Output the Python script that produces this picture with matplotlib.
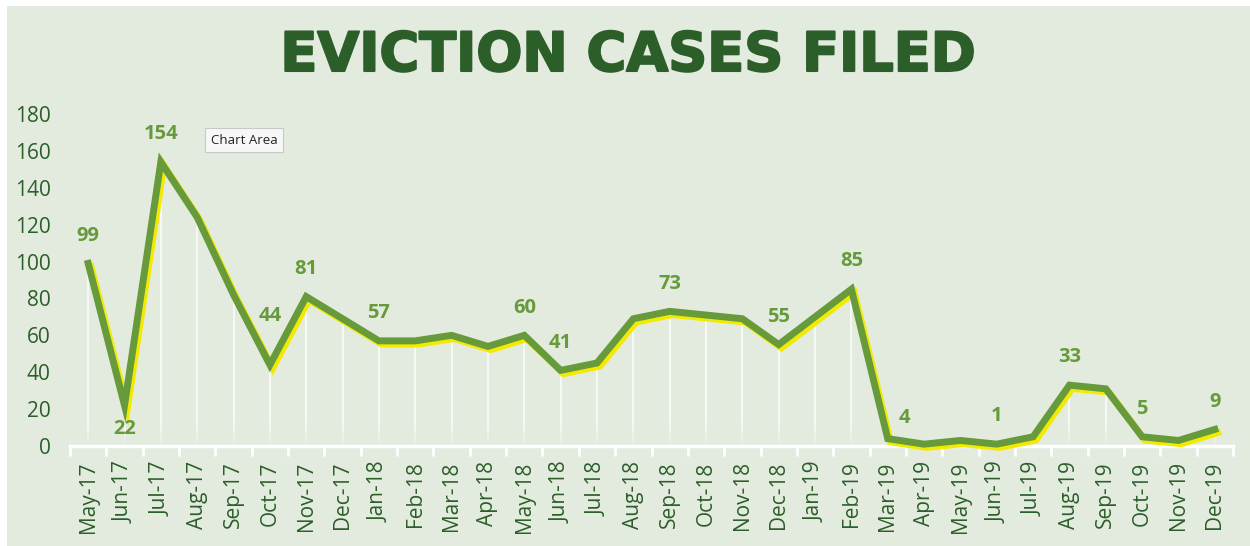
import numpy as np
import matplotlib
matplotlib.use('Agg')
import matplotlib.pyplot as plt
import matplotlib.patheffects as pe
from matplotlib.patches import Rectangle

months = ['May-17', 'Jun-17', 'Jul-17', 'Aug-17', 'Sep-17', 'Oct-17', 'Nov-17', 'Dec-17',
          'Jan-18', 'Feb-18', 'Mar-18', 'Apr-18', 'May-18', 'Jun-18', 'Jul-18', 'Aug-18',
          'Sep-18', 'Oct-18', 'Nov-18', 'Dec-18', 'Jan-19', 'Feb-19', 'Mar-19', 'Apr-19',
          'May-19', 'Jun-19', 'Jul-19', 'Aug-19', 'Sep-19', 'Oct-19', 'Nov-19', 'Dec-19']
cases = [99, 22, 154, 124, 82, 44, 81, 69,
         57, 57, 60, 54, 60, 41, 45, 69,
         73, 71, 69, 55, 70, 85, 4, 1,
         3, 1, 5, 33, 31, 5, 3, 9]
# months that carry a value label
labelled = ['May-17', 'Jun-17', 'Jul-17', 'Oct-17', 'Nov-17', 'Jan-18', 'May-18', 'Jun-18',
            'Sep-18', 'Dec-18', 'Feb-19', 'Mar-19', 'Jun-19', 'Aug-19', 'Oct-19', 'Dec-19']
yticks = [0, 20, 40, 60, 80, 100, 120, 140, 160, 180]

BG = '#e3ebdf'
LINE = '#679a3b'
SHADOW = '#f2ea00'
DARK = '#2b5e29'

# label offsets (points) where Excel moved a label off its default spot
label_offset = {'Jun-17': (0, -17), 'Oct-17': (0, 35), 'Mar-19': (12, 15)}

W, H = 1250, 546
fig = plt.figure(figsize=(W/100, H/100), dpi=100, facecolor='white')
fig.patches.append(Rectangle((7/W, 0), 1, 1-6/H, transform=fig.transFigure,
                             facecolor=BG, edgecolor='none', zorder=-10))

ax = fig.add_axes([70/W, 1-446/H, (1233-70)/W, (446-114)/H])
ax.set_facecolor('none')
x = np.arange(len(months))
y = np.array(cases, dtype=float)

# white drop lines that fade out towards the axis
fade = np.linspace(14, 0, 8)
for xi, yi in zip(x, y):
    if yi > fade[0]:
        ax.plot([xi, xi], [yi, fade[0]], color='white', lw=1.1, alpha=0.9, zorder=1)
    for k in range(len(fade)-1):
        if fade[k+1] >= yi:
            continue
        ax.plot([xi, xi], [min(fade[k], yi), fade[k+1]], color='white', lw=1.1,
                alpha=0.85*(1-(k+1)/len(fade)), zorder=1)

ax.plot(x, y, color=LINE, lw=5, solid_joinstyle='miter', zorder=3, clip_on=False,
        path_effects=[pe.SimpleLineShadow(offset=(2, -2.3), shadow_color=SHADOW, alpha=1, rho=1),
                      pe.Normal()])

for m in labelled:
    i = months.index(m)
    off = label_offset.get(m, (0, 20))
    ax.annotate(str(cases[i]), (i, cases[i]), xytext=off, textcoords='offset points',
                ha='center', va='center', fontsize=14.5, fontweight='bold',
                color=LINE, family='Open Sans', zorder=4)

ax.set_xlim(-0.5, len(months) - 0.5)
ax.set_ylim(0, 180)
ax.set_yticks(yticks)
ax.set_yticklabels([str(t) for t in yticks], fontsize=15, color=DARK, family='Open Sans')
ax.tick_params(axis='y', length=0, pad=14)
ax.set_xticks(x)
ax.set_xticklabels(months, rotation=90, fontsize=15, color=DARK, family='Open Sans')
ax.tick_params(axis='x', which='major', length=0, pad=11)
ax.set_xticks(np.arange(-0.5, len(months)), minor=True)
ax.tick_params(axis='x', which='minor', length=7, width=2, color='white', direction='out')
for s in ['top', 'right', 'left']:
    ax.spines[s].set_visible(False)
ax.spines['bottom'].set_color('white')
ax.spines['bottom'].set_linewidth(2.5)

fig.text(628/W, 1-56/H, 'EVICTION CASES FILED', ha='center', va='center',
         fontsize=39, fontweight='bold', family='DejaVu Sans', color=DARK,
         path_effects=[pe.withStroke(linewidth=1.5, foreground=DARK)])

fig.text(244/W, 1-140/H, 'Chart Area', ha='center', va='center', fontsize=9.5,
         color='#222222', family='Open Sans',
         bbox=dict(boxstyle='square,pad=0.4', facecolor='#f7f7f7', edgecolor='#c8c8c8', lw=0.8))

fig.savefig('out.png', dpi=100, facecolor='white')
